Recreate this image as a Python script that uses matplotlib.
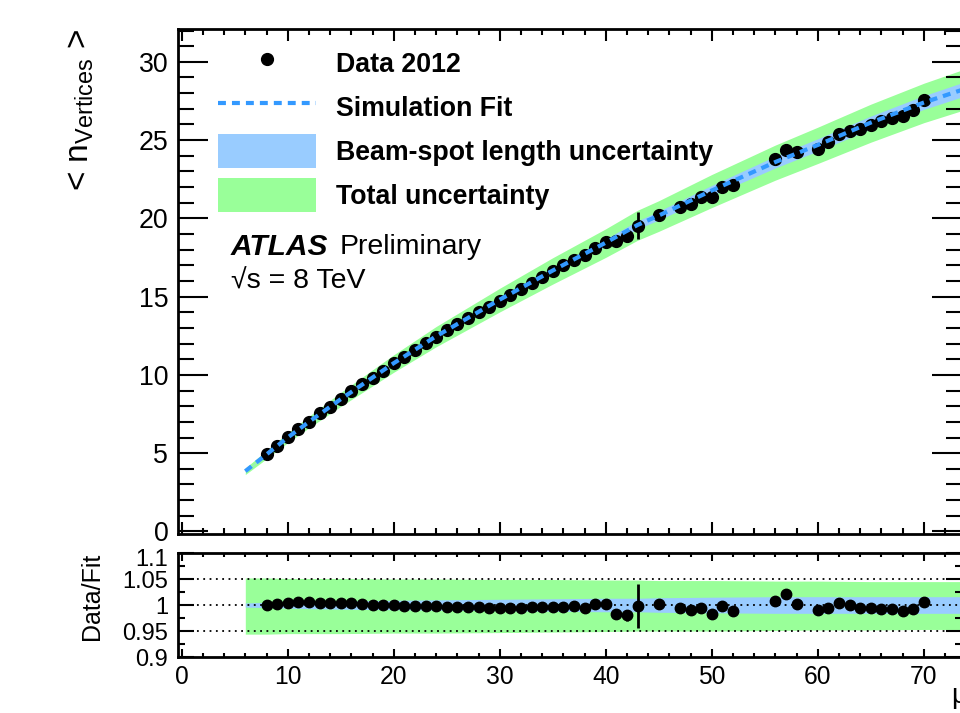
import numpy as np
import matplotlib
matplotlib.use("Agg")
import matplotlib.pyplot as plt
from matplotlib.lines import Line2D
from matplotlib.patches import Patch
from matplotlib.ticker import MultipleLocator, FixedLocator
from matplotlib.transforms import ScaledTranslation

plt.rcParams['font.family'] = ['Liberation Sans', 'DejaVu Sans']

# measured points (mu, <n_vertices>)
x_data = list(range(8, 44)) + [45, 47, 48, 49, 50, 51, 52, 56, 57, 58] + list(range(60, 71))
y_data = [4.92, 5.47, 6.02, 6.56, 7.02, 7.55, 7.98, 8.47, 8.96, 9.39, 9.81, 10.28,
          10.75, 11.17, 11.60, 12.02, 12.45, 12.85, 13.23, 13.61, 13.99, 14.37, 14.75,
          15.12, 15.50, 15.87, 16.25, 16.62, 17.00, 17.37, 17.65, 18.12, 18.47, 18.53,
          18.86, 19.54, 20.22, 20.75, 20.93, 21.35, 21.39, 22.03, 22.14, 23.80, 24.39,
          24.22, 24.44, 24.86, 25.40, 25.60, 25.71, 25.99, 26.20, 26.42, 26.56, 26.93, 27.57]
y_err = [0.05] * 33 + [0.15, 0.2, 0.85] + [0.05] * 10 + [0.2] + [0.05] * 10
ratio = [1.000, 1.001, 1.003, 1.005, 1.006, 1.004, 1.004, 1.003, 1.003, 1.002, 1.000,
         1.000, 1.000, 0.999, 0.998, 0.998, 0.998, 0.997, 0.997, 0.996, 0.996, 0.995,
         0.995, 0.995, 0.995, 0.996, 0.996, 0.996, 0.997, 0.998, 0.994, 1.001, 1.001,
         0.983, 0.980, 0.998, 1.002, 0.995, 0.990, 0.994, 0.982, 0.998, 0.988, 1.008,
         1.021, 1.002, 0.990, 0.994, 1.003, 1.000, 0.995, 0.995, 0.993, 0.992, 0.989,
         0.992, 1.006]
ratio_err = [0.002] * 33 + [0.008, 0.01, 0.042] + [0.002] * 10 + [0.01] + [0.002] * 10

# simulation fit and relative uncertainty bands
fit_x = [6, 8, 10, 12, 15, 20, 24, 30, 35, 40, 43, 45, 50, 56, 60, 65, 70, 74]
fit_y = [3.85, 4.92, 6.0, 7.0, 8.45, 10.75, 12.47, 14.81, 16.67, 18.45, 19.58, 20.18,
         21.78, 23.6, 24.69, 26.12, 27.4, 28.3]
tot_hi = [1.052, 1.052, 1.051, 1.051, 1.051, 1.050, 1.050, 1.049, 1.049, 1.048, 1.048,
          1.047, 1.047, 1.046, 1.046, 1.045, 1.045, 1.045]
tot_lo = [0.944, 0.944, 0.945, 0.945, 0.945, 0.946, 0.946, 0.947, 0.948, 0.949, 0.950,
          0.950, 0.950, 0.951, 0.952, 0.952, 0.953, 0.953]
bs_hi = [1.004, 1.005, 1.006, 1.007, 1.008, 1.009, 1.010, 1.011, 1.012, 1.013, 1.013,
         1.014, 1.015, 1.016, 1.016, 1.016, 1.016, 1.016]
bs_lo = [0.996, 0.995, 0.994, 0.993, 0.992, 0.991, 0.990, 0.989, 0.988, 0.987, 0.987,
         0.986, 0.985, 0.984, 0.984, 0.984, 0.984, 0.984]

green = '#99ff99'
lblue = '#99ccff'
fitblue = '#3399ff'
fs = 19.3

fig = plt.figure(figsize=(9.6, 7.13), dpi=100)
ax = fig.add_axes([0.1854, 0.2511, 0.8167, 0.7083])
rx = fig.add_axes([0.1854, 0.0785, 0.8167, 0.1459])

fy = np.array(fit_y)
ax.fill_between(fit_x, fy * np.array(tot_lo), fy * np.array(tot_hi), color=green, lw=0, zorder=1)
ax.fill_between(fit_x, fy * np.array(bs_lo), fy * np.array(bs_hi), color=lblue, lw=0, zorder=2)
ax.errorbar(x_data, y_data, yerr=y_err, fmt='o', color='k', ms=8.5, elinewidth=2,
            capsize=0, zorder=3)
ax.plot(fit_x, fit_y, color=fitblue, lw=3, ls=(0, (1.9, 1.45)), zorder=4)

ax.set_xlim(-0.35, 73.6)
ax.set_ylim(-0.16, 32.1)
ax.xaxis.set_major_locator(MultipleLocator(10))
ax.xaxis.set_minor_locator(MultipleLocator(2))
ax.yaxis.set_major_locator(MultipleLocator(5))
ax.yaxis.set_minor_locator(MultipleLocator(1))
ax.tick_params(which='both', direction='in', top=True, right=True, width=1.5)
ax.tick_params(axis='x', which='major', length=8.6, labelbottom=False)
ax.tick_params(axis='x', which='minor', length=4.3)
ax.tick_params(axis='y', which='major', length=21.6, labelsize=fs, pad=7)
ax.tick_params(axis='y', which='minor', length=11.5)
for s in ax.spines.values():
    s.set_linewidth(2)
ax.set_ylabel(r"< n$_{\mathregular{Vertices}}$ >", fontsize=24, loc='top')
ax.yaxis.set_label_coords(-0.105, 1.0)

handles = [Line2D([], [], marker='o', color='k', ls='none', ms=8.5),
           Line2D([], [], color=fitblue, lw=3, ls=(0, (1.9, 1.45))),
           Patch(facecolor=lblue, edgecolor='none'),
           Patch(facecolor=green, edgecolor='none')]
labels = ['Data 2012', 'Simulation Fit', 'Beam-spot length uncertainty', 'Total uncertainty']
ax.legend(handles, labels, loc='upper left', bbox_to_anchor=(0.051, 0.966),
          frameon=False, borderpad=0, borderaxespad=0, handlelength=3.66,
          handleheight=1.6, labelspacing=0.35, handletextpad=0.75,
          prop={'weight': 'bold', 'size': fs})

ax.text(0.0676, 0.5686, 'ATLAS', transform=ax.transAxes, fontsize=21.5,
        fontweight='bold', style='italic', va='center')
ax.text(0.2065, 0.5686, 'Preliminary', transform=ax.transAxes, fontsize=20.5, va='center')
ax.text(0.0676, 0.4994, '√s = 8 TeV', transform=ax.transAxes, fontsize=20.5, va='center')

# ratio panel
rx.fill_between(fit_x, tot_lo, tot_hi, color=green, lw=0, zorder=1)
rx.fill_between(fit_x, bs_lo, bs_hi, color=lblue, lw=0, zorder=2)
for lv in [0.95, 1.0, 1.05]:
    rx.axhline(lv, color='k', lw=1.3, ls=(0, (1, 2.5)), zorder=3)
rx.errorbar(x_data, ratio, yerr=ratio_err, fmt='o', color='k', ms=7.5, elinewidth=2,
            capsize=0, zorder=4)
rx.set_xlim(-0.35, 73.6)
rx.set_ylim(0.9, 1.1)
rx.xaxis.set_major_locator(MultipleLocator(10))
rx.xaxis.set_minor_locator(MultipleLocator(2))
rx.yaxis.set_major_locator(FixedLocator([0.9, 0.95, 1.0, 1.05, 1.1]))
rx.yaxis.set_minor_locator(MultipleLocator(0.025))
rx.set_yticklabels(['0.9', '0.95', '1', '1.05', '1.1'])
rx.tick_params(which='both', direction='in', top=True, right=True, width=1.5)
rx.tick_params(axis='x', which='major', length=5.8, labelsize=17.7, pad=6)
rx.tick_params(axis='x', which='minor', length=2.9)
rx.tick_params(axis='y', which='major', length=11.5, labelsize=17, pad=7)
rx.tick_params(axis='y', which='minor', length=5)
top_lab = rx.get_yticklabels()[-1]
top_lab.set_transform(top_lab.get_transform() + ScaledTranslation(0, -3.5 / 72, fig.dpi_scale_trans))
for s in rx.spines.values():
    s.set_linewidth(2)
rx.set_ylabel('Data/Fit', fontsize=18, loc='top')
rx.yaxis.set_label_coords(-0.095, 1.0)

fig.text(951 / 960, 0.005, 'μ', fontsize=20, ha='left', va='bottom')

fig.savefig('out.png', dpi=100)
